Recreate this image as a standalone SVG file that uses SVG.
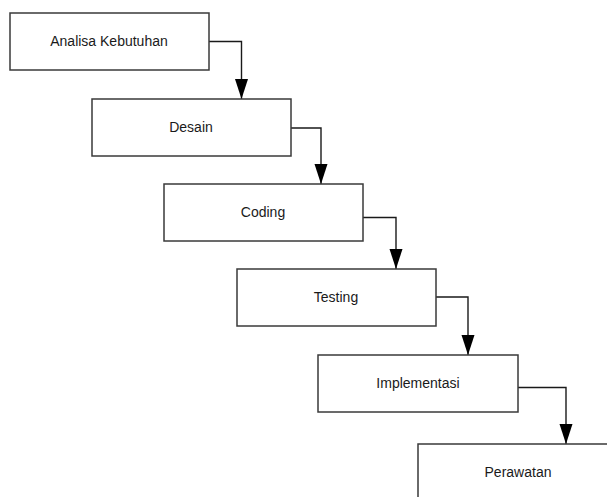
<svg xmlns="http://www.w3.org/2000/svg" width="607" height="497" viewBox="0 0 607 497">
<defs>
<style>
.box{fill:#fff;stroke:#3a3a3a;stroke-width:1.5}
.lbl{font-family:"Liberation Sans",Arial,sans-serif;font-size:14px;fill:#1a1a1a;text-anchor:middle}
.conn{fill:none;stroke:#1a1a1a;stroke-width:1.4}
</style>
<marker id="arr" viewBox="0 0 20 14" refX="20" refY="7" markerWidth="20" markerHeight="14" markerUnits="userSpaceOnUse" orient="auto">
<path d="M0,0.5 L20,7 L0,13.5 Z" fill="#000"/>
</marker>
</defs>
<rect width="607" height="497" fill="#fff"/>
<g id="connectors">
<path class="conn" d="M209,41.5 H241.5 V99" marker-end="url(#arr)"/>
<path class="conn" d="M291,128 H321 V184" marker-end="url(#arr)"/>
<path class="conn" d="M363,217.5 H396 V269" marker-end="url(#arr)"/>
<path class="conn" d="M436,297 H468 V355" marker-end="url(#arr)"/>
<path class="conn" d="M518,387.5 H566 V444" marker-end="url(#arr)"/>
</g>
<g id="n1"><rect class="box" x="10" y="13" width="199" height="57"/><text class="lbl" x="109" y="46">Analisa Kebutuhan</text></g>
<g id="n2"><rect class="box" x="92" y="99" width="199" height="57"/><text class="lbl" x="191" y="132">Desain</text></g>
<g id="n3"><rect class="box" x="164" y="184" width="199" height="57"/><text class="lbl" x="263" y="217">Coding</text></g>
<g id="n4"><rect class="box" x="237" y="269" width="199" height="57"/><text class="lbl" x="336" y="302">Testing</text></g>
<g id="n5"><rect class="box" x="318" y="355" width="200" height="57"/><text class="lbl" x="418" y="388">Implementasi</text></g>
<g id="n6"><rect class="box" x="418" y="444" width="200" height="57"/><text class="lbl" x="518" y="477">Perawatan</text></g>
</svg>
